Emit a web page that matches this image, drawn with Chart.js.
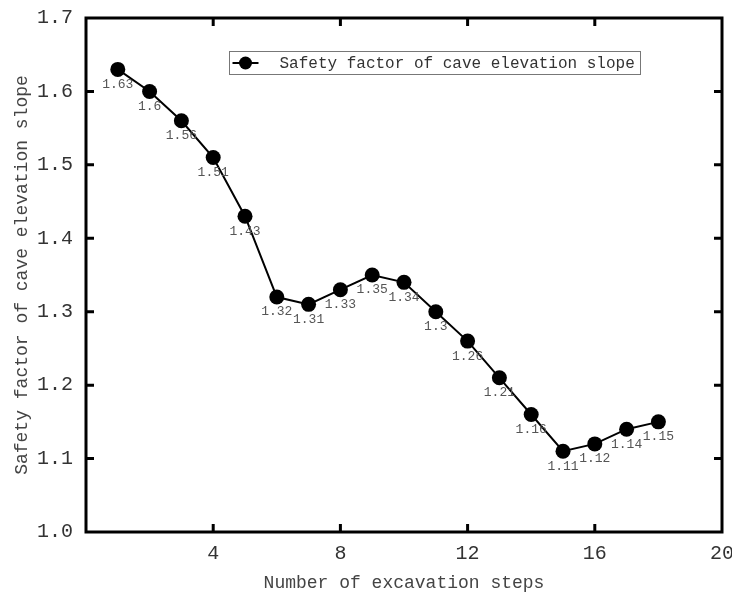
<!DOCTYPE html>
<html>
<head>
<meta charset="utf-8">
<script src="https://cdn.jsdelivr.net/npm/chart.js@4.4.1/dist/chart.umd.min.js"></script>
<style>
  html, body { margin: 0; padding: 0; background: #fff; }
  #wrap { width: 732px; height: 599px; }
</style>
</head>
<body>
<div id="wrap"><canvas id="c" width="732" height="599"></canvas></div>
<script>
const steps = [1, 2, 3, 4, 5, 6, 7, 8, 9, 10, 11, 12, 13, 14, 15, 16, 17, 18];
const safetyFactor = [1.63, 1.6, 1.56, 1.51, 1.43, 1.32, 1.31, 1.33, 1.35, 1.34, 1.3, 1.26, 1.21, 1.16, 1.11, 1.12, 1.14, 1.15];
const xTickValues = [4, 8, 12, 16, 20];
const yTickValues = [1.0, 1.1, 1.2, 1.3, 1.4, 1.5, 1.6, 1.7];
const seriesName = 'Safety factor of cave elevation slope';
const xTitle = 'Number of excavation steps';
const yTitle = 'Safety factor of cave elevation slope';

const MONO = '"Liberation Mono", "DejaVu Sans Mono", monospace';

const points = steps.map((s, i) => ({ x: s, y: safetyFactor[i] }));

const framePlugin = {
  id: 'frame',
  afterDraw(chart) {
    const { ctx, chartArea: a, scales } = chart;
    ctx.save();
    ctx.strokeStyle = '#000';
    ctx.lineWidth = 3;
    ctx.strokeRect(a.left, a.top, a.right - a.left, a.bottom - a.top);
    const len = 8;
    ctx.beginPath();
    xTickValues.forEach(v => {
      const px = scales.x.getPixelForValue(v);
      if (px > a.left + 2 && px < a.right - 2) {
        ctx.moveTo(px, a.bottom); ctx.lineTo(px, a.bottom - len);
        ctx.moveTo(px, a.top); ctx.lineTo(px, a.top + len);
      }
    });
    yTickValues.forEach(v => {
      const py = scales.y.getPixelForValue(v);
      if (py > a.top + 2 && py < a.bottom - 2) {
        ctx.moveTo(a.left, py); ctx.lineTo(a.left + len, py);
        ctx.moveTo(a.right, py); ctx.lineTo(a.right - len, py);
      }
    });
    ctx.stroke();
    ctx.restore();
  }
};

const labelPlugin = {
  id: 'valueLabels',
  afterDatasetsDraw(chart) {
    const { ctx } = chart;
    const meta = chart.getDatasetMeta(0);
    ctx.save();
    ctx.font = '13px ' + MONO;
    ctx.fillStyle = '#555';
    ctx.textAlign = 'center';
    ctx.textBaseline = 'middle';
    meta.data.forEach((pt, i) => {
      ctx.fillText(String(safetyFactor[i]), pt.x, pt.y + 15);
    });
    ctx.restore();
  }
};

const legendPlugin = {
  id: 'boxLegend',
  afterDraw(chart) {
    const { ctx } = chart;
    const x0 = 229.5, y0 = 51.5, w = 411, h = 23;
    ctx.save();
    ctx.fillStyle = '#fff';
    ctx.fillRect(x0, y0, w, h);
    ctx.strokeStyle = '#777';
    ctx.lineWidth = 1;
    ctx.strokeRect(x0, y0, w, h);
    const cy = y0 + h / 2;
    ctx.strokeStyle = '#000';
    ctx.lineWidth = 2;
    ctx.beginPath();
    ctx.moveTo(x0 + 3, cy); ctx.lineTo(x0 + 29, cy);
    ctx.stroke();
    ctx.fillStyle = '#000';
    ctx.beginPath();
    ctx.arc(x0 + 16, cy, 6.5, 0, Math.PI * 2);
    ctx.fill();
    ctx.font = '16px ' + MONO;
    ctx.fillStyle = '#333';
    ctx.textAlign = 'left';
    ctx.textBaseline = 'middle';
    ctx.fillText(seriesName, x0 + 50, cy + 1);
    ctx.restore();
  }
};

new Chart(document.getElementById('c'), {
  type: 'line',
  data: {
    datasets: [{
      label: seriesName,
      data: points,
      borderColor: '#000',
      backgroundColor: '#000',
      borderWidth: 2,
      pointRadius: 7.5,
      pointHoverRadius: 7.5,
      pointBackgroundColor: '#000',
      pointBorderWidth: 0,
      tension: 0,
      fill: false
    }]
  },
  options: {
    responsive: false,
    animation: false,
    devicePixelRatio: 1,
    layout: { padding: { left: 0, right: 10, top: 18, bottom: 0 } },
    plugins: {
      legend: { display: false },
      tooltip: { enabled: false }
    },
    scales: {
      x: {
        type: 'linear',
        min: 0,
        max: 20,
        afterFit(s) { s.height = 67; s.paddingLeft = 0; s.paddingRight = 0; },
        afterBuildTicks(s) { s.ticks = [0].concat(xTickValues).map(v => ({ value: v })); },
        grid: { display: false, drawTicks: false },
        border: { display: false },
        ticks: {
          padding: 10,
          color: '#333',
          font: { family: MONO, size: 20 },
          maxRotation: 0,
          callback: v => (v === 0 ? '' : String(v))
        },
        title: {
          display: true,
          text: xTitle,
          color: '#444',
          font: { family: MONO, size: 18 },
          padding: { top: 0, bottom: 5 }
        }
      },
      y: {
        type: 'linear',
        min: 1.0,
        max: 1.7,
        afterFit(s) { s.width = 86; s.paddingTop = 0; s.paddingBottom = 0; },
        afterBuildTicks(s) { s.ticks = yTickValues.map(v => ({ value: v })); },
        grid: { display: false, drawTicks: false },
        border: { display: false },
        ticks: {
          padding: 13,
          color: '#333',
          font: { family: MONO, size: 20 },
          callback: v => Number(v).toFixed(1)
        },
        title: {
          display: true,
          text: yTitle,
          color: '#444',
          font: { family: MONO, size: 18 },
          padding: { top: 11, bottom: 0 }
        }
      }
    }
  },
  plugins: [framePlugin, labelPlugin, legendPlugin]
});
</script>
</body>
</html>
